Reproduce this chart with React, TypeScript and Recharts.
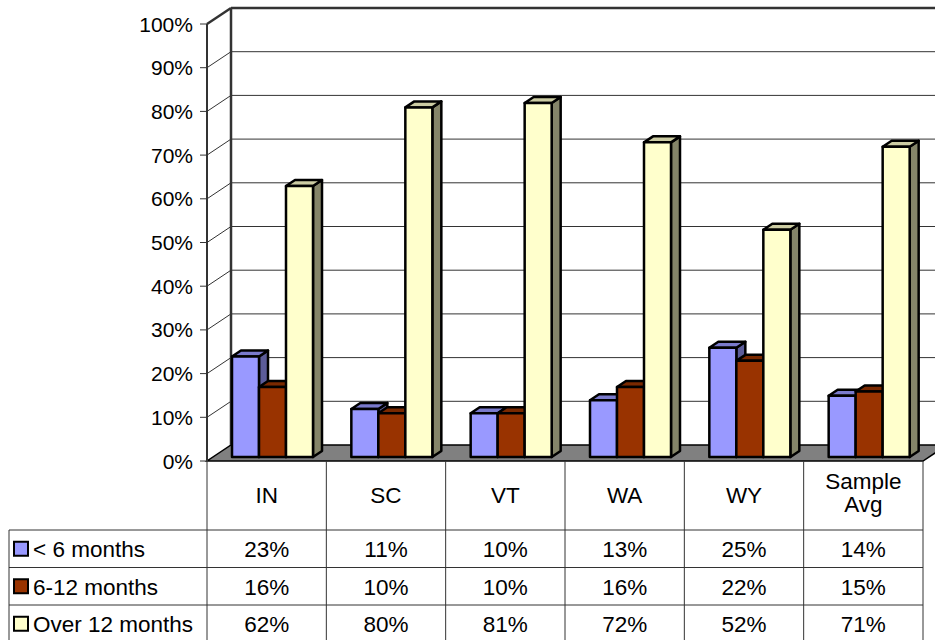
import { BarChart, Bar, XAxis, YAxis, CartesianGrid } from "recharts";

const categories = ["IN", "SC", "VT", "WA", "WY", "Sample Avg"];
const seriesNames = ["< 6 months", "6-12 months", "Over 12 months"];
const underSixMonths = [23, 11, 10, 13, 25, 14];
const sixToTwelveMonths = [16, 10, 10, 16, 22, 15];
const overTwelveMonths = [62, 80, 81, 72, 52, 71];
const percentTicks = [0, 10, 20, 30, 40, 50, 60, 70, 80, 90, 100];

const seriesValues = [underSixMonths, sixToTwelveMonths, overTwelveMonths];
const seriesKeys = ["under6", "sixTo12", "over12"];

// front / top / side shading for each box
const seriesColors = [
	{ front: "#9999FF", top: "#7A7ACC", side: "#5C5C99" },
	{ front: "#993300", top: "#7A2900", side: "#5C1F00" },
	{ front: "#FFFFCC", top: "#CCCCA3", side: "#858569" },
];

const WIDTH = 935;
const HEIGHT = 640;
const Y_AXIS_W = 213;
const X_AXIS_H = 183;
const RIGHT_GAP = 6;
const PLOT_TOP = 20;
const PLOT_BOTTOM = HEIGHT - X_AXIS_H;
const BAND = (WIDTH - RIGHT_GAP - Y_AXIS_W) / categories.length;

// offsets of the front edge and back wall relative to the plane the bars stand in
const FRONT_DX = -6;
const FRONT_DY = 4;
const BACK_DX = 18;
const BACK_DY = -12;
const BAR_DX = 9;
const BAR_DY = -6;

const TABLE_TOP = PLOT_BOTTOM + FRONT_DY;
const HEADER_BOTTOM = 530;
const ROW_H = 37.5;
const LEGEND_LEFT = 9;
const LINE = "#333";
const FONT = "'Liberation Sans', Arial, sans-serif";
const TABLE_FONT = 22.5;

const rows = categories.map((category, i) => ({
	category,
	under6: underSixMonths[i],
	sixTo12: sixToTwelveMonths[i],
	over12: overTwelveMonths[i],
}));

function GridLine(props: any) {
	const { x1, x2, y1 } = props;
	const xFront = x1 + FRONT_DX;
	const yFront = y1 + FRONT_DY;
	const xBack = x1 + BACK_DX;
	const yBack = y1 + BACK_DY;

	if (Math.abs(y1 - PLOT_BOTTOM) < 0.5) {
		const right = x2 + FRONT_DX;
		return (
			<polygon
				key={props.key}
				points={`${xFront},${yFront} ${right},${yFront} ${right + BACK_DX - FRONT_DX},${yBack} ${xBack},${yBack}`}
				fill="#808080"
				stroke="#000"
				strokeWidth={1.5}
			/>
		);
	}

	const isTop = Math.abs(y1 - PLOT_TOP) < 0.5;
	return (
		<g key={props.key}>
			<line x1={xFront} y1={yFront} x2={xBack} y2={yBack} stroke={LINE} strokeWidth={isTop ? 2.5 : 1} />
			<line x1={xBack} y1={yBack} x2={WIDTH} y2={yBack} stroke={LINE} strokeWidth={isTop ? 2.5 : 1} />
			{isTop && (
				<>
					<line x1={xBack} y1={yBack} x2={xBack} y2={PLOT_BOTTOM + BACK_DY} stroke={LINE} strokeWidth={2.5} />
					<line x1={xFront} y1={yFront} x2={xFront} y2={TABLE_TOP} stroke={LINE} strokeWidth={2} />
				</>
			)}
		</g>
	);
}

function makeBox(colors: { front: string; top: string; side: string }) {
	return (props: any) => {
		const { x, y, width, height } = props;
		if (typeof x !== "number" || typeof y !== "number" || height <= 0) {
			return null;
		}
		const r = x + width;
		const b = y + height;
		return (
			<g stroke="#000" strokeWidth={2.5} strokeLinejoin="round">
				<polygon
					points={`${r},${y} ${r + BAR_DX},${y + BAR_DY} ${r + BAR_DX},${b + BAR_DY} ${r},${b}`}
					fill={colors.side}
				/>
				<polygon
					points={`${x},${y} ${x + BAR_DX},${y + BAR_DY} ${r + BAR_DX},${y + BAR_DY} ${r},${y}`}
					fill={colors.top}
				/>
				<rect x={x} y={y} width={width} height={height} fill={colors.front} />
			</g>
		);
	};
}

function PercentTick({ y, payload }: any) {
	const xFront = Y_AXIS_W + FRONT_DX;
	const ty = y + FRONT_DY;
	return (
		<g>
			<line x1={xFront - 7} y1={ty} x2={xFront} y2={ty} stroke={LINE} strokeWidth={1} />
			<text x={193} y={ty} textAnchor="end" dominantBaseline="central" fontSize={21} fontFamily={FONT} fill="#000">
				{payload.value}%
			</text>
		</g>
	);
}

function LegendColumn() {
	const right = WIDTH - RIGHT_GAP + FRONT_DX;
	return (
		<g>
			{seriesNames.map((name, r) => {
				const top = HEADER_BOTTOM + r * ROW_H;
				const cy = top + ROW_H / 2;
				return (
					<g key={name}>
						<line x1={LEGEND_LEFT} y1={top} x2={right} y2={top} stroke={LINE} strokeWidth={1} />
						<rect x={14} y={cy - 7} width={14} height={14} fill={seriesColors[r].front} stroke="#000" strokeWidth={2} />
						<text x={33} y={cy + 1} dominantBaseline="central" fontSize={TABLE_FONT} fontFamily={FONT} fill="#000">
							{name}
						</text>
					</g>
				);
			})}
			<line x1={LEGEND_LEFT} y1={HEADER_BOTTOM} x2={LEGEND_LEFT} y2={HEIGHT} stroke={LINE} strokeWidth={1} />
		</g>
	);
}

function TableColumn({ x, payload, index }: any) {
	const i = typeof index === "number" ? index : payload.index;
	const left = x - BAND / 2 + FRONT_DX;
	const cx = left + BAND / 2;
	const label: string = payload.value;
	const lines = label.split(" ");
	const headerMid = (TABLE_TOP + HEADER_BOTTOM) / 2 - (lines.length > 1 ? 3 : 0);
	return (
		<g>
			{i === 0 && <LegendColumn />}
			<line x1={left} y1={TABLE_TOP} x2={left} y2={HEIGHT} stroke={LINE} strokeWidth={1} />
			{i === categories.length - 1 && (
				<line x1={left + BAND} y1={TABLE_TOP} x2={left + BAND} y2={HEIGHT} stroke={LINE} strokeWidth={1} />
			)}
			{lines.map((line, k) => (
				<text
					key={line}
					x={cx}
					y={headerMid + (k - (lines.length - 1) / 2) * 23}
					textAnchor="middle"
					dominantBaseline="central"
					fontSize={TABLE_FONT}
					fontFamily={FONT}
					fill="#000"
				>
					{line}
				</text>
			))}
			{seriesValues.map((values, r) => (
				<text
					key={seriesKeys[r]}
					x={cx}
					y={HEADER_BOTTOM + r * ROW_H + ROW_H / 2 + 1}
					textAnchor="middle"
					dominantBaseline="central"
					fontSize={TABLE_FONT}
					fontFamily={FONT}
					fill="#000"
				>
					{values[i]}%
				</text>
			))}
		</g>
	);
}

export default function App() {
	return (
		<div style={{ position: "absolute", left: 0, top: 0, width: WIDTH, height: HEIGHT, overflow: "hidden", background: "#fff" }}>
			<BarChart
				width={WIDTH}
				height={HEIGHT}
				data={rows}
				margin={{ top: PLOT_TOP, right: RIGHT_GAP, bottom: 0, left: 0 }}
				barGap={0}
			>
				<CartesianGrid vertical={false} horizontal={GridLine} />
				<YAxis
					width={Y_AXIS_W}
					domain={[0, 100]}
					ticks={percentTicks}
					interval={0}
					axisLine={false}
					tickLine={false}
					tick={PercentTick}
				/>
				<XAxis
					dataKey="category"
					height={X_AXIS_H}
					interval={0}
					axisLine={false}
					tickLine={false}
					tick={TableColumn}
				/>
				{seriesKeys.map((key, r) => (
					<Bar
						key={key}
						dataKey={key}
						name={seriesNames[r]}
						barSize={27}
						isAnimationActive={false}
						shape={makeBox(seriesColors[r])}
					/>
				))}
			</BarChart>
		</div>
	);
}
